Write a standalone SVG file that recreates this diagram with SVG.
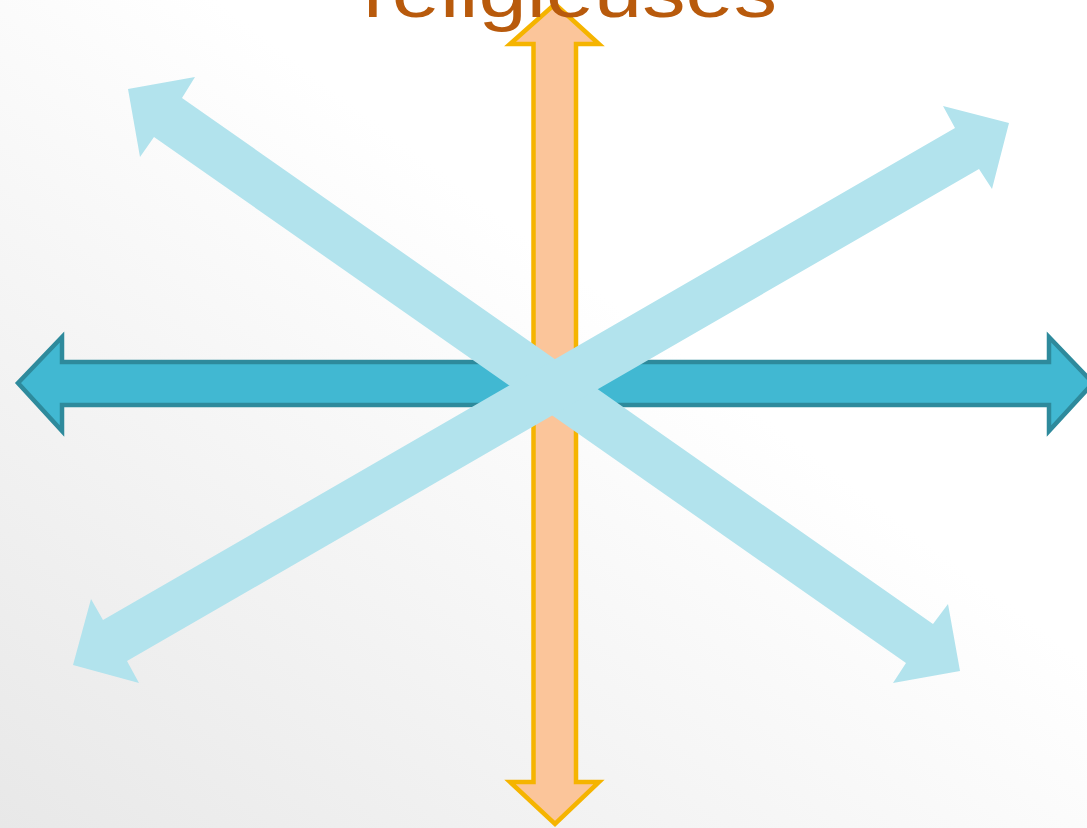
<svg xmlns="http://www.w3.org/2000/svg" width="1087" height="828" viewBox="0 0 1087 828">
<defs>
<linearGradient id="bg" x1="0" y1="1" x2="1" y2="0">
<stop offset="0" stop-color="#e8e8e8"/>
<stop offset="0.6" stop-color="#ffffff"/>
<stop offset="1" stop-color="#ffffff"/>
</linearGradient>
<style>
.h{fill:#41b8d2;stroke:#2e8a9c;stroke-width:4.5;stroke-linejoin:miter}
.v{fill:#fbc59a;stroke:#f5b400;stroke-width:4.5;stroke-linejoin:miter}
.x{fill:#b2e3ed;stroke:none}
.t{font-family:"Liberation Sans",Arial,sans-serif;font-size:72px;fill:#b85a0c}
</style>
</defs>
<rect width="1087" height="828" fill="url(#bg)"/>
<g id="connectors">
<g id="arrow-horizontal">
<polygon class="h" points="18,383 62,337 62,362 1049,362 1049,337 1093,383 1049,431 1049,405 62,405 62,431"/>
</g>
<g id="arrow-vertical">
<polygon class="v" points="555,4 599,44 576,44 576,782 599,782 555,824 510,782 533.5,782 533.5,44 510,44"/>
</g>
<g id="title">
<text class="t" x="363" y="17" textLength="414" lengthAdjust="spacingAndGlyphs">religieuses</text>
</g>
<g id="arrow-diag1">
<polygon class="x" points="128,89 195,77 182,98 933,624 948,604 960,671 893,683 906,663 154,137 140,157"/>
</g>
<g id="arrow-diag2">
<polygon class="x" points="1009,123 943,106 955,128 103,620 91,599 73,665 139,683 127,661 979,169 992,189"/>
</g>
</g>
</svg>
